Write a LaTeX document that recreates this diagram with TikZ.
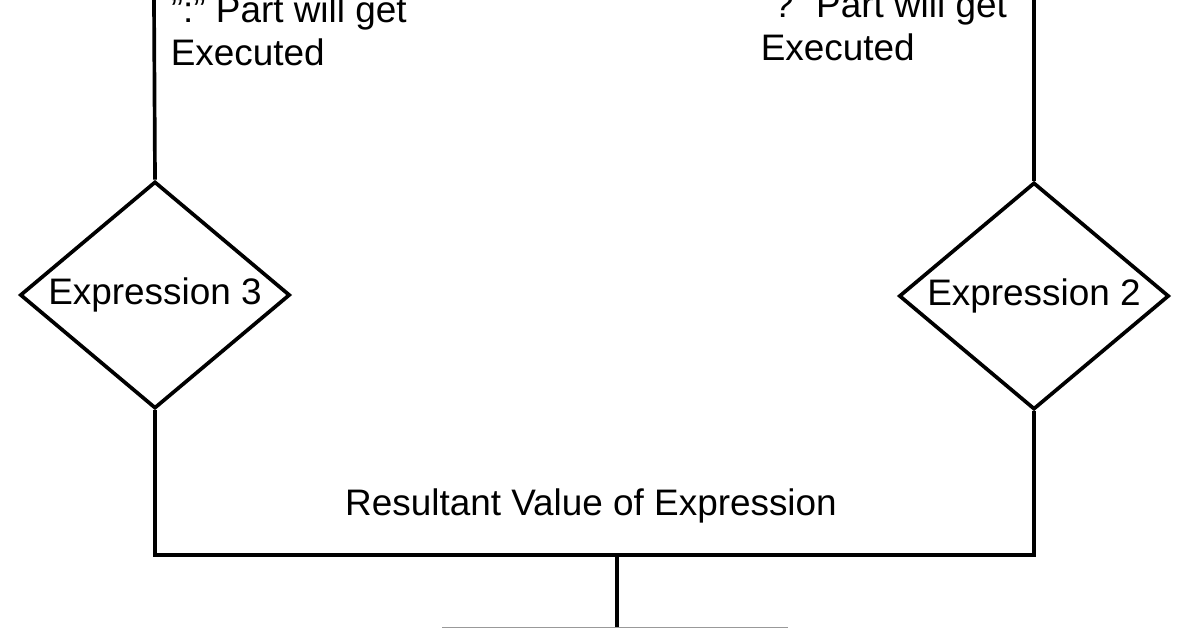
\documentclass[tikz,border=0pt]{standalone}
\usepackage{fontspec}
\setmainfont{Liberation Sans}
\usetikzlibrary{shapes.geometric,positioning}

\begin{document}
\begin{tikzpicture}[x=0.02cm, y=-0.02cm, line width=2.1pt]
  % Styles
  \tikzstyle{cond}=[draw, diamond, aspect=1.19, inner sep=0pt, minimum width=5.4cm, minimum height=4.54cm, font=\fontsize{21}{24}\selectfont]
  \tikzstyle{lab}=[inner sep=0pt, align=left, font=\fontsize{21}{24.5}\selectfont]
  \tikzstyle{outbox}=[draw=black!40, line width=1.6pt, minimum width=6.88cm, minimum height=1.6cm, inner sep=0pt]

  \useasboundingbox (0,0) rectangle (1197,628);

  % Left branch: false part
  \coordinate (t3) at (154,0);
  \node[cond] (d3) at (155,295) {Expression 3};
  \node[lab, anchor=base west] (l3) at (169,66) {\char34:\char34\ Part will get\\Executed};
  \draw (t3) -- (d3.north);

  % Right branch: true part
  \coordinate (t2) at (1034,0);
  \node[cond] (d2) at (1034,296) {Expression 2};
  \node[lab, anchor=base west] (l2) at (759,61) {\char34?\char34\ Part will get\\Executed};
  \draw (t2) -- (d2.north);

  % Joining both results
  \coordinate (j) at (617,555);
  \node[outbox, anchor=north] (res) at (615,627) {};
  \draw (d3.south) |- (j) -| (d2.south);
  \draw (j) -- (j |- res.north);

  \node[lab, anchor=base] (rv) at (591,515) {Resultant Value of Expression};
\end{tikzpicture}
\end{document}
